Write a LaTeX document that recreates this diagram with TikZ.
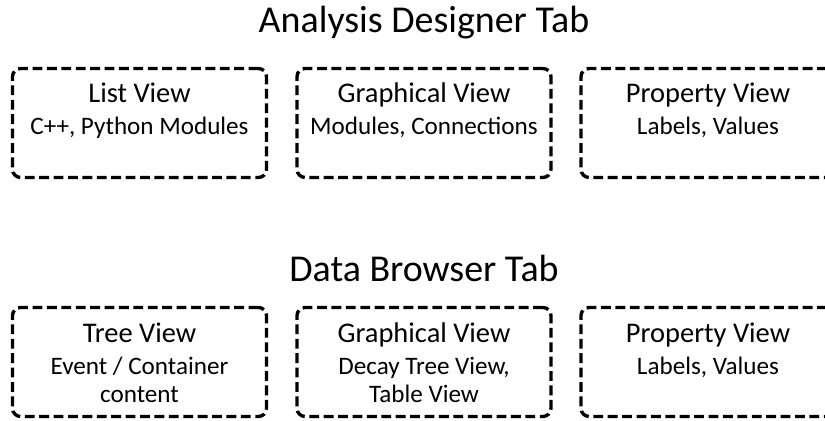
\documentclass[tikz,border=0pt]{standalone}
\usepackage{fontspec}
\setmainfont{Carlito}
\begin{document}
\begin{tikzpicture}[x=0.02cm,y=-0.02cm]
\tikzset{
  viewbox/.style={draw,line width=1.9pt,dash pattern=on 5.6pt off 2.6pt,rounded corners=0.16cm,minimum width=5.08cm,minimum height=2.18cm,inner sep=0pt},
  viewtitle/.style={anchor=base,inner sep=0pt,font=\fontsize{16.2}{19}\selectfont},
  viewtext/.style={anchor=base,inner sep=0pt,font=\fontsize{14.3}{17}\selectfont},
  tabtitle/.style={anchor=base,inner sep=0pt,font=\fontsize{21.6}{26}\selectfont}
}
\useasboundingbox (0,0) rectangle (825,421);
\clip (0,0) rectangle (825,421);

% Analysis designer
\node[tabtitle] (designer) at (424,33) {Analysis Designer Tab};
\foreach \n/\x/\title/\sub in {list/139.5/List View/{C++, Python Modules},graph/424/Graphical View/{Modules, Connections},prop/708/Property View/{Labels, Values}}{
\node[viewbox] (\n) at (\x,123) {};
\node[viewtitle] (\n title) at (\x,103) {\title};
\node[viewtext] (\n text) at (\x,135) {\sub};
}

% Data browser
\node[tabtitle] (browser) at (424,282) {Data Browser Tab};
\foreach \n/\x/\title/\sub/\more in {tree/139.5/Tree View/Event \slash{} Container/content,decay/424/Graphical View/{Decay Tree View,}/Table View,values/708/Property View/{Labels, Values}/{}}{
\node[viewbox] (\n) at (\x,362) {};
\node[viewtitle] (\n title) at (\x,343) {\title};
\node[viewtext] (\n text) at (\x,375) {\sub};
\node[viewtext] (\n more) at (\x,403) {\more};
}

\end{tikzpicture}
\end{document}
